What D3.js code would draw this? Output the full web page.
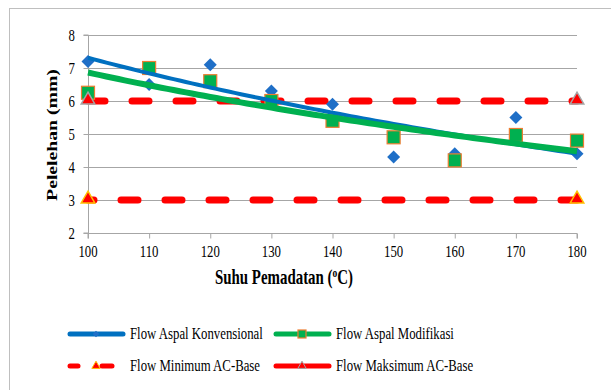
<!DOCTYPE html>
<html><head><meta charset="utf-8">
<script src="https://cdn.jsdelivr.net/npm/d3@7"></script>
<style>body{margin:0;background:#fff}svg{display:block}text{font-family:"Liberation Serif","Times New Roman",serif;fill:#000}</style>
</head><body><svg id="c" width="611" height="390"></svg>
<script>
const temps = [100,110,120,130,140,150,160,170,180];
const flowKonvensional = [7.2,6.5,7.1,6.3,5.9,4.3,4.4,5.5,4.4];
const flowModifikasi = [6.25,7.0,6.6,6.0,5.4,4.9,4.2,4.97,4.8];
const minTemps = [100,180];
const flowMinimum = [3,3];
const flowMaksimum = [6,6];
const yTicks = [2,3,4,5,6,7,8];
const xTicks = [100,110,120,130,140,150,160,170,180];
const legendLabels = ["Flow Aspal Konvensional","Flow Aspal Modifikasi","Flow Minimum AC-Base","Flow Maksimum AC-Base"];

const SY = 1.35; // vertical stretch of glyphs in the reference
const svg = d3.select("#c");
const x = d3.scaleLinear().domain([100,180]).range([88,577]);
const y = d3.scaleLinear().domain([2,8]).range([233,35]);

// frame
svg.append("rect").attr("x",9.5).attr("y",8.5).attr("width",700).attr("height",500)
  .attr("fill","none").attr("stroke","#bfbfbf").attr("stroke-width",1);

// gridlines
svg.append("g").selectAll("line").data(yTicks.slice(1)).join("line")
  .attr("x1",x(100)).attr("x2",x(180)).attr("y1",d=>Math.round(y(d))+0.5).attr("y2",d=>Math.round(y(d))+0.5)
  .attr("stroke","#a6a6a6").attr("stroke-width",1);

// axes (lines/ticks from d3 axes, labels drawn with stretch)
const ya = svg.append("g").attr("transform",`translate(${x(100)+0.5},0)`)
  .call(d3.axisLeft(y).tickValues(yTicks).tickSize(5).tickFormat(""));
const xa = svg.append("g").attr("transform",`translate(0,${Math.round(y(2))+0.5})`)
  .call(d3.axisBottom(x).tickValues(xTicks).tickSize(5).tickFormat(""));
[ya,xa].forEach(a=>{
  a.selectAll("path,line").attr("stroke","#a6a6a6");
  a.select(".domain").attr("d", a===ya ? `M-5,${y(2)}H0V${y(8)}H-5` : `M${x(100)},5V0H${x(180)}V5`);
});
function stext(px,py,str,size,anchor){
  return svg.append("text").attr("transform",`translate(${px},${py}) scale(1,${SY})`)
    .attr("text-anchor",anchor||"start").attr("font-size",size).text(str);
}
yTicks.forEach(v=>stext(75, y(v)+5.6, d3.format("d")(v), 12.8, "end"));
xTicks.forEach(v=>stext(x(v), 256.5, d3.format("d")(v), 12.8, "middle"));

// regression (logarithmic trendline)
function logFit(xs, ys){
  const lx = xs.map(Math.log), n = xs.length;
  const mx = d3.mean(lx), my = d3.mean(ys);
  let sxy=0,sxx=0; for(let i=0;i<n;i++){sxy+=(lx[i]-mx)*(ys[i]-my);sxx+=(lx[i]-mx)**2;}
  const b=sxy/sxx, a=my-b*mx; return v=>a+b*Math.log(v);
}
const fitK = logFit(temps, flowKonvensional);
const fitM = logFit(temps, flowModifikasi);
const fine = d3.range(100,180.01,1);
const line = d3.line().x(d=>x(d[0])).y(d=>y(d[1]));

// red dashed lines
function redLine(vals, off){
  svg.append("path").datum(minTemps.map((t,i)=>[t,vals[i]])).attr("d",line)
    .attr("fill","none").attr("stroke","#ff0000").attr("stroke-width",7)
    .attr("stroke-linecap","round").attr("stroke-dasharray","17,27").attr("stroke-dashoffset",off);
}
redLine(flowMinimum, 11);
redLine(flowMaksimum, 0);

// markers
svg.append("g").selectAll("path").data(temps).join("path")
  .attr("d", d3.symbol().type(d3.symbolSquare).size(85))
  .attr("transform",(d,i)=>`translate(${x(d)},${y(flowKonvensional[i])}) rotate(45)`)
  .attr("fill","#1f6fc7");
svg.append("g").selectAll("rect").data(temps).join("rect")
  .attr("x",d=>x(d)-6.5).attr("y",(d,i)=>y(flowModifikasi[i])-6.5).attr("width",13).attr("height",13)
  .attr("fill","#00b050").attr("stroke","#ed7d31").attr("stroke-width",1.2);

// trendlines
svg.append("path").datum(fine.map(v=>[v,fitK(v)])).attr("d",line)
  .attr("fill","none").attr("stroke","#0070c0").attr("stroke-width",4);
svg.append("path").datum(fine.map(v=>[v,fitM(v)])).attr("d",line)
  .attr("fill","none").attr("stroke","#00b050").attr("stroke-width",6);

// triangles
const tri = d3.symbol().type(d3.symbolTriangle).size(80);
svg.append("g").selectAll("path").data(minTemps).join("path")
  .attr("d",tri).attr("transform",(d,i)=>`translate(${x(d)},${y(flowMinimum[i])-1})`)
  .attr("fill","#ff0000").attr("stroke","#ffc000").attr("stroke-width",1.5);
svg.append("g").selectAll("path").data(minTemps).join("path")
  .attr("d",tri).attr("transform",(d,i)=>`translate(${x(d)},${y(flowMaksimum[i])-1})`)
  .attr("fill","#ff0000").attr("stroke","#a5a5a5").attr("stroke-width",1.5);

// axis titles
const xt = svg.append("text").attr("transform",`translate(284,284) scale(1,${SY})`).attr("text-anchor","middle")
  .attr("font-size",14.9).attr("font-weight","bold");
xt.append("tspan").text("Suhu Pemadatan (");
xt.append("tspan").text("o").attr("font-size",9.5).attr("dy",-5);
xt.append("tspan").text("C)").attr("dy",5);
svg.append("text").attr("transform",`translate(57,135) scale(1,${SY}) rotate(-90)`).attr("text-anchor","middle")
  .attr("font-size",14.6).attr("font-weight","bold").text("Pelelehan (mm)");

// legend
const leg = [
  {x:68,y:334,label:legendLabels[0],color:"#0070c0",dash:null,marker:"diamond"},
  {x:274,y:334,label:legendLabels[1],color:"#00b050",dash:null,marker:"square"},
  {x:68,y:366,label:legendLabels[2],color:"#ff0000",dash:true,marker:"triMin"},
  {x:274,y:366,label:legendLabels[3],color:"#ff0000",dash:null,marker:"triMax"}
];
const lg = svg.append("g").selectAll("g").data(leg).join("g").attr("transform",d=>`translate(${d.x},${d.y})`);
lg.each(function(d){
  const g = d3.select(this);
  if(d.dash){
    g.append("line").attr("x1",2).attr("x2",10).attr("stroke",d.color).attr("stroke-width",5).attr("stroke-linecap","round");
    g.append("line").attr("x1",34).attr("x2",44).attr("stroke",d.color).attr("stroke-width",5).attr("stroke-linecap","round");
  } else {
    g.append("line").attr("x1",2).attr("x2",55).attr("stroke",d.color).attr("stroke-width",5).attr("stroke-linecap","round");
  }
  if(d.marker==="diamond") g.append("path").attr("d",d3.symbol().type(d3.symbolSquare).size(22)).attr("transform","translate(28,0) rotate(45)").attr("fill","#1f6fc7");
  if(d.marker==="square") g.append("rect").attr("x",24).attr("y",-4).attr("width",8).attr("height",8).attr("fill","#00b050").attr("stroke","#ed7d31").attr("stroke-width",1.2);
  if(d.marker==="triMin") g.append("path").attr("d",d3.symbol().type(d3.symbolTriangle).size(30)).attr("transform","translate(28,0)").attr("fill","#ff0000").attr("stroke","#ffc000").attr("stroke-width",1);
  if(d.marker==="triMax") g.append("path").attr("d",d3.symbol().type(d3.symbolTriangle).size(30)).attr("transform","translate(28,0)").attr("fill","#ff0000").attr("stroke","#a5a5a5").attr("stroke-width",1);
  g.append("text").attr("transform",`translate(62,5.2) scale(1,${SY})`).attr("font-size",12.8).text(d.label);
});
</script></body></html>
